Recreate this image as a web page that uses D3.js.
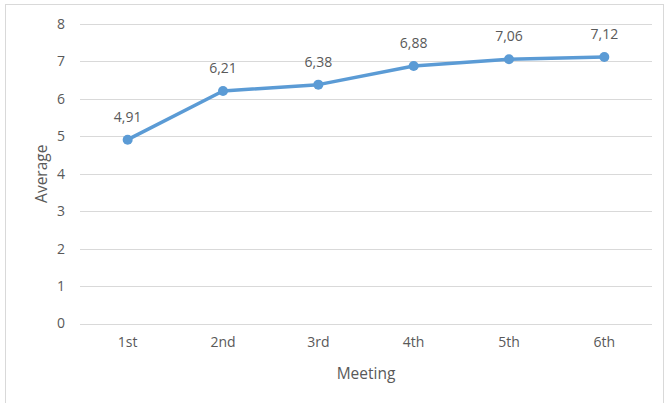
<!DOCTYPE html>
<html>
<head>
<meta charset="utf-8">
<script src="https://cdn.jsdelivr.net/npm/d3@7"></script>
<style>
  body { margin: 0; background: #fff; }
  text { font-family: "Open Sans", "Noto Sans", sans-serif; fill: #595959; }
</style>
</head>
<body>
<div id="chart"></div>
<script>
// chart data
var meetings = ["1st", "2nd", "3rd", "4th", "5th", "6th"];
var averages = [4.91, 6.21, 6.38, 6.88, 7.06, 7.12];
var yTicks = [0, 1, 2, 3, 4, 5, 6, 7, 8];

var W = 666, H = 403;
var margin = {top: 24, right: 14, bottom: 80, left: 80};
var width = W - margin.left - margin.right,
    height = 323.5 - margin.top;

var svg = d3.select("#chart")
    .append("svg")
        .attr("width", W)
        .attr("height", H);

// outer chart border
svg.append("rect")
    .attr("x", 5.5).attr("y", 4.5)
    .attr("width", W - 8).attr("height", H + 5)
    .attr("fill", "none")
    .attr("stroke", "#d9d9d9")
    .attr("stroke-width", 1);

var g = svg.append("g")
    .attr("transform", "translate(" + margin.left + "," + margin.top + ")");

var x = d3.scaleBand()
    .domain(meetings)
    .range([0, width]);

var y = d3.scaleLinear()
    .domain([0, 8])
    .range([height, 0]);

// gridlines
g.selectAll(".grid")
    .data(yTicks)
    .enter()
    .append("line")
    .attr("x1", 0).attr("x2", width)
    .attr("y1", function(d) { return Math.round(y(d)) + 0.5; })
    .attr("y2", function(d) { return Math.round(y(d)) + 0.5; })
    .attr("stroke", "#d9d9d9")
    .attr("stroke-width", 1);

// y axis labels
var yAxis = g.append("g")
    .call(d3.axisLeft(y).tickValues(yTicks).tickSize(0).tickPadding(15));
yAxis.select(".domain").remove();
yAxis.selectAll("text").attr("font-size", 14).attr("fill", "#595959")
    .style("font-family", '"Open Sans", sans-serif');

// x axis labels
var xAxis = g.append("g")
    .attr("transform", "translate(0," + height + ")")
    .call(d3.axisBottom(x).tickSize(0).tickPadding(14));
xAxis.select(".domain").remove();
xAxis.selectAll("text").attr("font-size", 14).attr("fill", "#595959")
    .style("font-family", '"Open Sans", sans-serif');

// axis titles
svg.append("text")
    .attr("x", margin.left + width / 2)
    .attr("y", 379)
    .attr("text-anchor", "middle")
    .attr("font-size", 15.5)
    .text("Meeting");

svg.append("text")
    .attr("transform", "translate(47," + (margin.top + height / 2) + ") rotate(-90)")
    .attr("text-anchor", "middle")
    .attr("font-size", 15.5)
    .text("Average");

// line
var line = d3.line()
    .x(function(d, i) { return x(meetings[i]) + x.bandwidth() / 2; })
    .y(function(d) { return y(d); });

g.append("path")
    .datum(averages)
    .attr("d", line)
    .attr("fill", "none")
    .attr("stroke", "#5b9bd5")
    .attr("stroke-width", 3.5)
    .attr("stroke-linejoin", "round")
    .attr("stroke-linecap", "round");

g.selectAll(".dot")
    .data(averages)
    .enter()
    .append("circle")
    .attr("cx", function(d, i) { return x(meetings[i]) + x.bandwidth() / 2; })
    .attr("cy", function(d) { return y(d); })
    .attr("r", 5)
    .attr("fill", "#5b9bd5");

// data labels
g.selectAll(".lbl")
    .data(averages)
    .enter()
    .append("text")
    .attr("x", function(d, i) { return x(meetings[i]) + x.bandwidth() / 2; })
    .attr("y", function(d) { return y(d) - 18; })
    .attr("text-anchor", "middle")
    .attr("font-size", 14)
    .attr("fill", "#404040")
    .text(function(d) { return d.toFixed(2).replace(".", ","); });
</script>
</body>
</html>
